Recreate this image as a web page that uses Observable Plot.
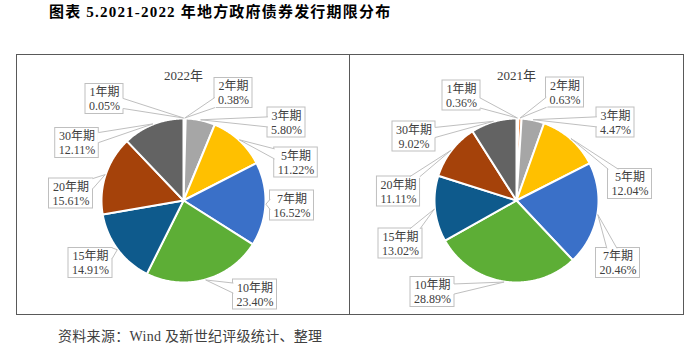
<!DOCTYPE html>
<html><head><meta charset="utf-8">
<script src="https://cdn.jsdelivr.net/npm/d3@7"></script>
<script src="https://cdn.jsdelivr.net/npm/@observablehq/plot@0.6"></script>
<style>
body{margin:0;background:#fff;width:699px;height:351px;position:relative;overflow:hidden;font-family:"Liberation Serif","Noto Sans CJK SC",serif;}
#title{position:absolute;left:49px;top:3px;font-size:15px;font-weight:bold;line-height:18px;color:#000;white-space:nowrap;letter-spacing:1.2px}
#caption{position:absolute;left:58px;top:328px;font-size:14px;line-height:18px;color:#404040;white-space:nowrap;letter-spacing:0.3px}
#frame{position:absolute;left:16px;top:54px;width:666px;height:259px;border:1px solid #595959;}
#divider{position:absolute;left:349px;top:54px;width:1px;height:261px;background:#595959}
.panel{position:absolute;top:55px}
</style></head><body>
<div id="title">图表 5.2021-2022 年地方政府债券发行期限分布</div>
<div id="frame"></div>
<div id="p2022" class="panel" style="left:17px"></div>
<div id="p2021" class="panel" style="left:350px"></div>
<div id="divider"></div>
<div id="caption">资料来源：Wind 及新世纪评级统计、整理</div>
<script>
// ---- data ----
const terms = ["1年期","2年期","3年期","5年期","7年期","10年期","15年期","20年期","30年期"];
const share2022 = [0.05, 0.38, 5.80, 11.22, 16.52, 23.40, 14.91, 15.61, 12.11];
const share2021 = [0.36, 0.63, 4.47, 12.04, 20.46, 28.89, 13.02, 11.11, 9.02];
const panelTitles = ["2022年", "2021年"];
const termColors = ["#4472C4","#ED7D31","#A6A6A6","#FFC000","#3A70C8","#5DAE36","#0E5A8C","#A5420A","#636363"];

// ---- layout (label box centres relative to pie centre, px) ----
const labelPos2022 = [[-79,-101.5],[50,-107.5],[103,-78],[112.5,-38],[108.5,5],[71.5,94],[-93,62.5],[-112.5,-7],[-106.5,-57.5]];
const labelPos2021 = [[-55,-105],[48.5,-108],[99,-78],[113.5,-16.5],[101.5,62.5],[-84,91.5],[-116,43],[-118,-9],[-102.5,-64]];
const R = 82, W = 332, H = 259, CX = 166, CY = 145;
const FONT = "'Liberation Serif','Noto Sans CJK SC',serif";
const ctx = document.createElement("canvas").getContext("2d");
ctx.font = "12px 'Liberation Serif','Noto Sans CJK SC'";
const measure = s => ctx.measureText(s).width;

function drawPanel(values, title, labelPos) {
  const arcs = d3.pie().sort(null).value(d => d)(values);
  const sliceRows = [];
  arcs.forEach((a, i) => {
    const t = terms[i];
    sliceRows.push({term: t, x: 0, y: 0});
    const n = Math.max(2, Math.ceil((a.endAngle - a.startAngle) / 0.01));
    for (let k = 0; k <= n; k++) {
      const ang = a.startAngle + (a.endAngle - a.startAngle) * k / n;
      sliceRows.push({term: t, x: R * Math.sin(ang), y: -R * Math.cos(ang)});
    }
    sliceRows.push({term: t, x: 0, y: 0});
  });
  const boxes = [], wedgeFill = [], wedgeLine = [];
  arcs.forEach((a, i) => {
    const pct = values[i].toFixed(2) + "%";
    const w = Math.max(measure(terms[i]), measure(pct)) + 7, h = 30;
    const [bx, by] = labelPos[i];
    boxes.push({term: terms[i], bx, by, x1: bx - w/2, x2: bx + w/2, y1: by - h/2, y2: by + h/2, label: terms[i] + "\n" + pct});
    const m = (a.startAngle + a.endAngle) / 2;
    const ax = (R + 0.5) * Math.sin(m), ay = -(R + 0.5) * Math.cos(m);
    const dx = ax - bx, dy = ay - by, hw = w/2, hh = h/2;
    const tx = Math.abs(dx) > 1e-9 ? hw / Math.abs(dx) : Infinity;
    const ty = Math.abs(dy) > 1e-9 ? hh / Math.abs(dy) : Infinity;
    const bw = 5;
    let p1, p2, q1, q2;
    if (tx < ty) {
      const ex = bx + Math.sign(dx) * hw;
      let py = by + tx * dy;
      py = Math.min(by + hh - bw, Math.max(by - hh + bw, py));
      p1 = [ex, py - bw]; p2 = [ex, py + bw];
      q1 = [ex - Math.sign(dx) * 1.5, py - bw]; q2 = [ex - Math.sign(dx) * 1.5, py + bw];
    } else {
      const ey = by + Math.sign(dy) * hh;
      let px = bx + ty * dx;
      px = Math.min(bx + hw - bw, Math.max(bx - hw + bw, px));
      p1 = [px - bw, ey]; p2 = [px + bw, ey];
      q1 = [px - bw, ey - Math.sign(dy) * 1.5]; q2 = [px + bw, ey - Math.sign(dy) * 1.5];
    }
    [q1, p1, [ax, ay], p2, q2].forEach(p => wedgeFill.push({term: terms[i], x: p[0], y: p[1]}));
    [p1, [ax, ay], p2].forEach(p => wedgeLine.push({term: terms[i], x: p[0], y: p[1]}));
  });
  return Plot.plot({
    width: W, height: H, margin: 0,
    style: {background: "transparent", fontFamily: FONT},
    x: {domain: [-CX, W - CX], range: [0, W], axis: null},
    y: {domain: [-CY, H - CY], range: [0, H], axis: null},
    color: {type: "ordinal", domain: terms, range: termColors},
    marks: [
      Plot.line(sliceRows, {x: "x", y: "y", z: "term", fill: "term", stroke: "white", strokeWidth: 2, strokeLinejoin: "round"}),
      Plot.rect(boxes, {x1: "x1", x2: "x2", y1: "y1", y2: "y2", fill: "white", stroke: "#BFBFBF", strokeWidth: 1}),
      Plot.line(wedgeFill, {x: "x", y: "y", z: "term", fill: "white", stroke: "none"}),
      Plot.line(wedgeLine, {x: "x", y: "y", z: "term", stroke: "#BFBFBF", strokeWidth: 1}),
      Plot.text(boxes, {x: "bx", y: "by", text: "label", fontSize: 12, lineHeight: 14/12, fill: "#404040", fontFamily: FONT}),
      Plot.text([title], {frameAnchor: "top", dy: 20, lineAnchor: "middle", text: d => d, fontSize: 13, fill: "#404040", fontFamily: FONT})
    ]
  });
}
document.getElementById("p2022").append(drawPanel(share2022, panelTitles[0], labelPos2022));
document.getElementById("p2021").append(drawPanel(share2021, panelTitles[1], labelPos2021));
</script>
</body></html>
